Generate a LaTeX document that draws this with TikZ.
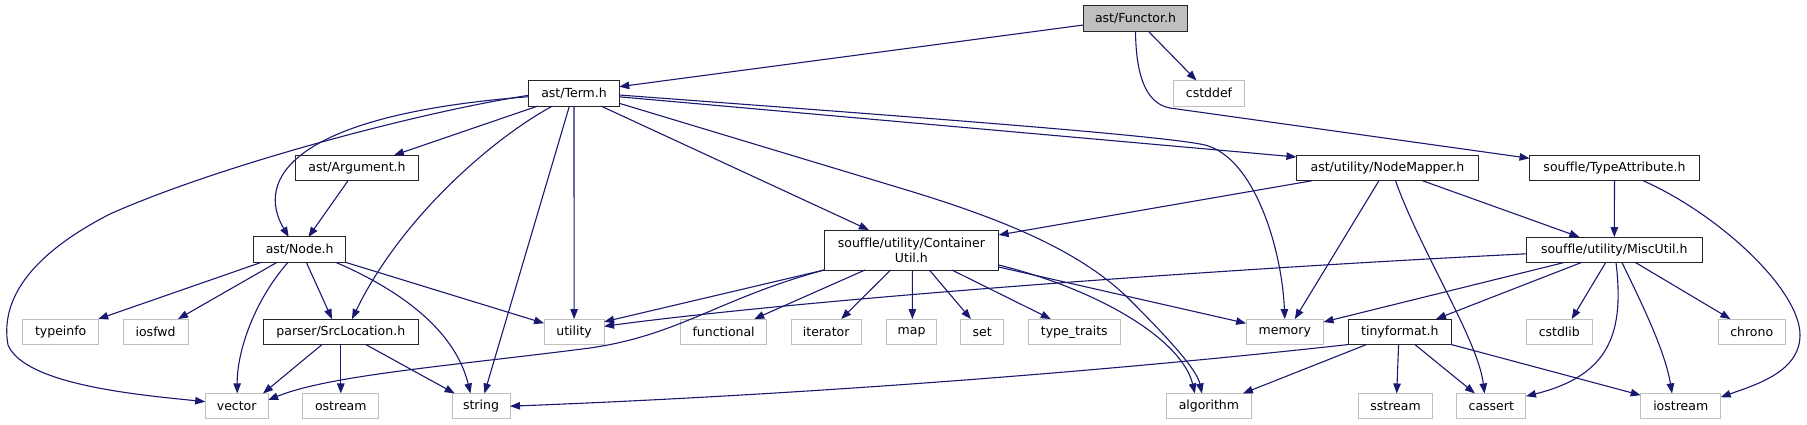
\documentclass[tikz,border=0pt]{standalone}
\usepackage{fontspec}
\setmainfont{DejaVu Sans}[Ligatures=CommonOff]
\usetikzlibrary{arrows.meta}
\definecolor{edgeblue}{HTML}{191970}
\definecolor{sysgray}{HTML}{BFBFBF}
\begin{document}
\begin{tikzpicture}[x=1pt,y=-1pt,
  box/.style={draw=black!85, line width=1pt, minimum height=25.5pt, inner sep=2pt, outer sep=0pt,
    font=\fontsize{12.5}{14.7}\selectfont, text=black},
  sys/.style={box, draw=sysgray},
  main/.style={box, fill=sysgray},
  e/.style={draw=edgeblue, line width=1.1pt, -{Triangle[length=10pt,width=7.5pt]}},
]
\useasboundingbox (0,0) rectangle (1807,425);

% ---- nodes ----
\node[main, minimum width=104pt] (functor) at (1135.5,18.5) {ast/Functor.h};
\node[box, minimum width=90.5pt] (term) at (574,93.3) {ast/Term.h};
\node[sys, minimum width=71pt] (cstddef) at (1209,93.3) {cstddef};
\node[box, minimum width=122.6pt] (arg) at (357,168) {ast/Argument.h};
\node[box, minimum width=182pt] (nmap) at (1387.4,168) {ast/utility/NodeMapper.h};
\node[box, minimum width=170pt] (tattr) at (1614.5,168) {souffle/TypeAttribute.h};
\node[box, minimum width=92.5pt] (node) at (299.7,249.7) {ast/Node.h};
\node[box, minimum width=174.4pt, minimum height=40pt, align=center] (cutil) at (911.4,250) {souffle/utility/Container\\Util.h};
\node[box, minimum width=175.7pt] (misc) at (1614.3,249.8) {souffle/utility/MiscUtil.h};

\node[sys, minimum width=75.5pt] (typeinfo) at (60.7,331.8) {typeinfo};
\node[sys, minimum width=65pt] (iosfwd) at (155.6,331.8) {iosfwd};
\node[box, minimum width=155pt] (srcloc) at (340.8,331.8) {parser/SrcLocation.h};
\node[sys, minimum width=60pt] (utility) at (574.1,331.8) {utility};
\node[sys, minimum width=86.6pt] (functional) at (723.6,331.8) {functional};
\node[sys, minimum width=70.4pt] (iterator) at (826.2,331.8) {iterator};
\node[sys, minimum width=50.6pt] (map) at (911.6,331.8) {map};
\node[sys, minimum width=43pt] (set) at (982.2,331.8) {set};
\node[sys, minimum width=92.2pt] (typetraits) at (1074.3,331.8) {type\_traits};
\node[sys, minimum width=77.4pt] (memory) at (1284.8,331.8) {memory};
\node[box, minimum width=103pt] (tinyformat) at (1399.8,331.8) {tinyformat.h};
\node[sys, minimum width=65.8pt] (cstdlib) at (1559.3,331.8) {cstdlib};
\node[sys, minimum width=66.6pt] (chrono) at (1751.7,331.8) {chrono};

\node[sys, minimum width=63pt] (vector) at (236.7,406.2) {vector};
\node[sys, minimum width=76pt] (ostream) at (340.8,406.2) {ostream};
\node[sys, minimum width=58pt] (string) at (481,406.2) {string};
\node[sys, minimum width=85pt] (algorithm) at (1208.9,406.2) {algorithm};
\node[sys, minimum width=74.4pt] (sstream) at (1395.5,406.2) {sstream};
\node[sys, minimum width=69.3pt] (cassert) at (1491.3,406.2) {cassert};
\node[sys, minimum width=80pt] (iostream) at (1680.7,406.2) {iostream};

% ---- edges: Functor ----
\draw[e] ([yshift=-6.5pt]functor.west) -- ([yshift=6.6pt]term.east);
\draw[e] ([xshift=12.8pt]functor.south) -- ([xshift=-12.5pt]cstddef.north);
\draw[e] (functor.south) .. controls (1136,80) and (1148,104) .. (1170,108) -- ([yshift=9.7pt]tattr.west);

% ---- Term ----
\draw[e] ([xshift=-36.2pt]term.south) -- ([xshift=37pt]arg.north);
\draw[e] ([yshift=-3.4pt]term.west) .. controls (290,115) and (255,180) .. ([xshift=-11pt]node.north);
\draw[e] ([yshift=-2pt]term.west) .. controls (420,112) and (220,165) .. (110,214)
   .. controls (30,255) and (0,300) .. (8,345) .. controls (25,385) and (140,395) .. ([yshift=4.5pt]vector.west);
\draw[e] ([xshift=-21.6pt]term.south) .. controls (490,140) and (400,220) .. ([xshift=11.2pt]srcloc.north);
\draw[e] ([xshift=-4.6pt]term.south) -- ([xshift=3.4pt]string.north);
\draw[e] (term.south) -- (utility.north);
\draw[e] ([xshift=27pt]term.south) -- ([xshift=-42.5pt]cutil.north);
\draw[e] ([yshift=-10pt]term.east) -- (900,188) .. controls (1000,218) and (1080,250) .. (1130,300)
   .. controls (1170,340) and (1197,370) .. ([xshift=-7pt]algorithm.north);
\draw[e] ([yshift=-1.7pt]term.east) .. controls (900,116) and (1160,135) .. (1205,145)
   .. controls (1255,158) and (1282,250) .. (memory.north);
\draw[e] ([yshift=-3.5pt]term.east) -- ([yshift=11pt]nmap.west);

% ---- Argument ----
\draw[e] ([xshift=-9pt]arg.south) -- ([xshift=8.7pt]node.north);

% ---- Node ----
\draw[e] ([xshift=-38.7pt]node.south) -- ([xshift=37.5pt]typeinfo.north);
\draw[e] ([xshift=-22.9pt]node.south) -- ([xshift=22.4pt]iosfwd.north);
\draw[e] ([xshift=-11.8pt]node.south) .. controls (255,300) and (237,350) .. ([xshift=0.5pt]vector.north);
\draw[e] ([xshift=6.7pt]node.south) -- ([xshift=-8.8pt]srcloc.north);
\draw[e] ([xshift=36.3pt]node.south) .. controls (400,290) and (455,330) .. ([xshift=-10.5pt]string.north);
\draw[e] (node.south east) -- ([yshift=8.5pt]utility.west);

% ---- SrcLocation ----
\draw[e] ([xshift=-18.8pt]srcloc.south) -- ([xshift=26.3pt]vector.north);
\draw[e] (srcloc.south) -- (ostream.north);
\draw[e] ([xshift=25pt]srcloc.south) -- ([xshift=-26.3pt]string.north);

% ---- ContainerUtil ----
\draw[e] (cutil.south west) -- ([yshift=10pt]utility.east);
\draw[e] (cutil.south west) .. controls (720,298) and (680,335) .. (590,348)
   .. controls (450,366) and (330,375) .. ([yshift=6.2pt]vector.east);
\draw[e] ([xshift=-46.4pt]cutil.south) -- ([xshift=30.6pt]functional.north);
\draw[e] ([xshift=-20.8pt]cutil.south) -- ([xshift=15pt]iterator.north);
\draw[e] ([xshift=1pt]cutil.south) -- ([xshift=0.8pt]map.north);
\draw[e] ([xshift=18pt]cutil.south) -- ([xshift=-11.3pt]set.north);
\draw[e] ([xshift=40.5pt]cutil.south) -- ([xshift=-23.5pt]typetraits.north);
\draw[e] ([yshift=-17pt]cutil.east) -- ([yshift=8.5pt]memory.west);
\draw[e] ([yshift=-15pt]cutil.east) .. controls (1100,290) and (1182,340) .. ([xshift=-14pt]algorithm.north);

% ---- NodeMapper ----
\draw[e] ([xshift=-75.4pt]nmap.south) -- ([yshift=15pt]cutil.east);
\draw[e] ([xshift=-8.5pt]nmap.south) -- ([xshift=10pt]memory.north);
\draw[e] ([xshift=8.1pt]nmap.south) .. controls (1420,250) and (1478,340) .. ([xshift=-6.8pt]cassert.north);
\draw[e] ([xshift=35.2pt]nmap.south) -- ([xshift=-34.9pt]misc.north);

% ---- TypeAttribute ----
\draw[e] (tattr.south) -- (misc.north);
\draw[e] ([xshift=28.8pt]tattr.south) .. controls (1720,215) and (1800,290) .. (1800,335)
   .. controls (1800,372) and (1755,385) .. ([yshift=9pt]iostream.east);

% ---- MiscUtil ----
\draw[e] ([yshift=-4pt]misc.west) .. controls (1200,270) and (800,300) .. ([yshift=5.5pt]utility.east);
\draw[e] ([xshift=-50.3pt]misc.south) -- ([yshift=9.8pt]memory.east);
\draw[e] ([xshift=-33pt]misc.south) -- ([xshift=36.2pt]tinyformat.north);
\draw[e] ([xshift=-8.6pt]misc.south) -- ([xshift=12.4pt]cstdlib.north);
\draw[e] ([xshift=1.7pt]misc.south) .. controls (1624,330) and (1612,375) .. ([yshift=10pt]cassert.east);
\draw[e] ([xshift=7.7pt]misc.south) .. controls (1640,300) and (1665,350) .. ([xshift=-8.7pt]iostream.north);
\draw[e] ([xshift=21.2pt]misc.south) -- ([xshift=-21.3pt]chrono.north);

% ---- tinyformat ----
\draw[e] (tinyformat.south west) .. controls (1100,372) and (800,395) .. (string.east);
\draw[e] ([xshift=-33.3pt]tinyformat.south) -- ([xshift=34pt]algorithm.north);
\draw[e] ([xshift=-1.2pt]tinyformat.south) -- ([xshift=1.2pt]sstream.north);
\draw[e] ([xshift=15.1pt]tinyformat.south) -- ([xshift=-16.4pt]cassert.north);
\draw[e] (tinyformat.south east) -- ([yshift=11pt]iostream.west);
\end{tikzpicture}
\end{document}
